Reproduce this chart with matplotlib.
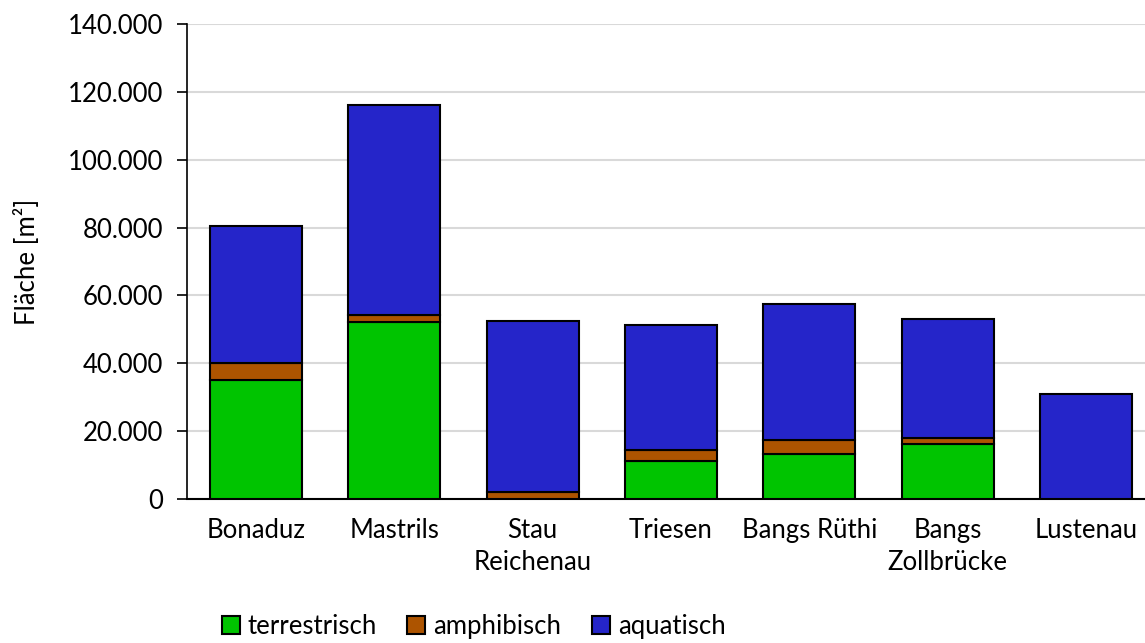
import matplotlib.pyplot as plt
from matplotlib.ticker import FuncFormatter
import numpy as np

# Flächen je Standort in m²
standorte = ["Bonaduz", "Mastrils", "Stau\nReichenau", "Triesen", "Bangs Rüthi", "Bangs\nZollbrücke", "Lustenau"]
terrestrisch = [35000, 52000, 0, 11000, 13200, 16000, 0]
amphibisch = [5000, 2100, 1900, 3400, 4000, 1800, 0]
aquatisch = [40500, 62000, 50600, 37000, 40300, 35200, 31000]

plt.rcParams['font.family'] = ['Lato', 'DejaVu Sans']
plt.rcParams['font.size'] = 18.5

fig = plt.figure(figsize=(11.45, 6.43), dpi=100)
ax = fig.add_axes([187 / 1145, 144.3 / 643, 968 / 1145, 474.4 / 643])

x = np.arange(len(standorte))
w = 0.665
bottom2 = np.array(terrestrisch)
bottom3 = bottom2 + np.array(amphibisch)
b1 = ax.bar(x, terrestrisch, w, color='#00C400', edgecolor='black', linewidth=1.5, zorder=3)
b2 = ax.bar(x, amphibisch, w, bottom=bottom2, color='#AD5400', edgecolor='black', linewidth=1.5, zorder=3)
b3 = ax.bar(x, aquatisch, w, bottom=bottom3, color='#2525C9', edgecolor='black', linewidth=1.5, zorder=3)

ax.set_xlim(-0.5, len(standorte) - 0.5)
ax.set_ylim(0, 140000)
ax.set_yticks(range(0, 140001, 20000))
ax.yaxis.set_major_formatter(FuncFormatter(lambda v, p: f"{int(v):,}".replace(",", ".")))
ax.set_xticks(x)
ax.set_xticklabels(standorte, linespacing=1.35)
ax.tick_params(axis='x', length=0, pad=14)
ax.tick_params(axis='y', length=7, width=1.2, pad=10)
ax.grid(axis='y', color='#d9d9d9', linewidth=1.5, zorder=0)

for s in ['top', 'right']:
    ax.spines[s].set_visible(False)
ax.spines['left'].set_linewidth(1.2)
ax.spines['bottom'].set_linewidth(1.5)

ax.set_ylabel("Fläche [m²]", labelpad=20)

# Legende mit gleich breiten Spalten
for handle, label, xpos in [(b1, 'terrestrisch', 222), (b2, 'amphibisch', 407), (b3, 'aquatisch', 592)]:
    leg = fig.legend([handle], [label], loc='lower left', bbox_to_anchor=(xpos / 1145, 0.006),
                     frameon=False, borderpad=0, borderaxespad=0,
                     handlelength=0.7, handleheight=0.7, handletextpad=0.3)

fig.savefig("out.png", dpi=100)
